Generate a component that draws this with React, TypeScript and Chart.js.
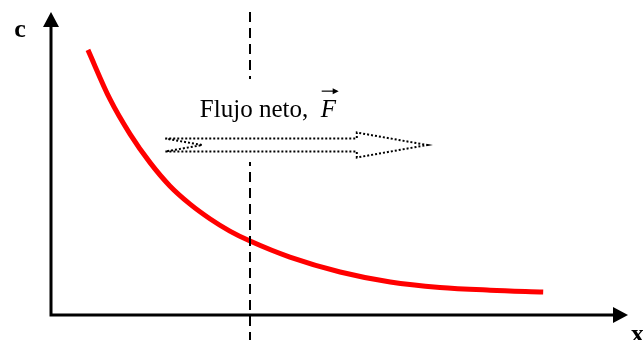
import React, { useEffect, useRef } from "react";
import { Chart, registerables } from "chart.js";

Chart.register(...registerables);

// Concentration profile c(x) (arbitrary units)
const xValues = [0.64, 1.02, 1.37, 1.72, 2.06, 2.41, 2.76, 3.1, 3.45, 4.14, 5.01, 5.88, 6.74, 7.61, 8.53];
const cValues = [8.75, 7.13, 5.97, 5.02, 4.26, 3.66, 3.17, 2.77, 2.44, 1.91, 1.42, 1.09, 0.91, 0.82, 0.76];

const axisLabels = ["c", "x"];
const fluxLabel = "Flujo neto,";
const fluxSymbol = "F";
const dividerX = [3.45];
// flux arrow: tail x, notch x, head start x, tip x, centre y
const fluxArrowX = [1.98, 2.62, 5.3, 6.52];
const fluxArrowY = [5.61];
const fluxTextPos = [2.58, 6.53];

const SERIF = '"Liberation Serif", "Times New Roman", serif';

const overlay = {
  id: "overlay",
  afterDatasetsDraw(chart: any) {
    const ctx = chart.ctx as CanvasRenderingContext2D;
    const xs = chart.scales.x;
    const ys = chart.scales.y;
    const area = chart.chartArea;
    const H = chart.height;
    const ox = xs.getPixelForValue(0);
    const oy = ys.getPixelForValue(0);
    const topY = ys.getPixelForValue(10);
    const rightX = xs.getPixelForValue(10);

    ctx.save();
    // axes
    ctx.strokeStyle = "#000";
    ctx.fillStyle = "#000";
    ctx.lineWidth = 3;
    ctx.lineCap = "butt";
    ctx.beginPath();
    ctx.moveTo(ox, oy + 1.5);
    ctx.lineTo(ox, topY + 12);
    ctx.moveTo(ox - 1.5, oy);
    ctx.lineTo(rightX - 12, oy);
    ctx.stroke();
    // arrowheads
    ctx.beginPath();
    ctx.moveTo(ox, topY);
    ctx.lineTo(ox - 8, topY + 15);
    ctx.lineTo(ox + 8, topY + 15);
    ctx.closePath();
    ctx.fill();
    ctx.beginPath();
    ctx.moveTo(rightX, oy);
    ctx.lineTo(rightX - 15, oy - 8);
    ctx.lineTo(rightX - 15, oy + 8);
    ctx.closePath();
    ctx.fill();

    // axis labels
    ctx.font = `bold 26px ${SERIF}`;
    ctx.textAlign = "center";
    ctx.textBaseline = "alphabetic";
    ctx.fillText(axisLabels[0], ox - 31, topY + 25);
    ctx.textAlign = "left";
    ctx.fillText(axisLabels[1], rightX + 3, oy + 27);

    // dashed divider
    const dx = Math.round(xs.getPixelForValue(dividerX[0]));
    ctx.lineWidth = 2;
    ctx.setLineDash([10, 6]);
    ctx.beginPath();
    ctx.moveTo(dx, area.top);
    ctx.lineTo(dx, H);
    ctx.stroke();
    ctx.setLineDash([]);

    // white label box
    const cy = ys.getPixelForValue(fluxArrowY[0]);
    ctx.fillStyle = "#fff";
    ctx.fillRect(dx - 20, cy - 66, 40, 83);

    // flux text
    ctx.fillStyle = "#000";
    ctx.font = `25px ${SERIF}`;
    ctx.textAlign = "left";
    const tx = xs.getPixelForValue(fluxTextPos[0]);
    const ty = ys.getPixelForValue(fluxTextPos[1]);
    ctx.fillText(fluxLabel, tx, ty);
    const w = ctx.measureText(fluxLabel + "  ").width;
    ctx.font = `italic 25px ${SERIF}`;
    const fx = tx + w;
    ctx.fillText(fluxSymbol, fx, ty);
    // vector arrow over F
    ctx.lineWidth = 1.2;
    ctx.beginPath();
    ctx.moveTo(fx + 1, ty - 26);
    ctx.lineTo(fx + 16, ty - 26);
    ctx.stroke();
    ctx.beginPath();
    ctx.moveTo(fx + 18, ty - 26);
    ctx.lineTo(fx + 12, ty - 29);
    ctx.lineTo(fx + 12, ty - 23);
    ctx.closePath();
    ctx.fill();

    // dotted notched block arrow
    const x0 = xs.getPixelForValue(fluxArrowX[0]);
    const xn = xs.getPixelForValue(fluxArrowX[1]);
    const xh = xs.getPixelForValue(fluxArrowX[2]);
    const xt = xs.getPixelForValue(fluxArrowX[3]);
    const sh = 6.5;
    const hh = 12.5;
    ctx.lineWidth = 2;
    ctx.setLineDash([2, 2]);
    ctx.beginPath();
    ctx.moveTo(x0, cy - sh);
    ctx.lineTo(xh, cy - sh);
    ctx.lineTo(xh, cy - hh);
    ctx.lineTo(xt, cy);
    ctx.lineTo(xh, cy + hh);
    ctx.lineTo(xh, cy + sh);
    ctx.lineTo(x0, cy + sh);
    ctx.lineTo(xn, cy);
    ctx.closePath();
    ctx.stroke();
    ctx.restore();
  },
};

export default function App() {
  const ref = useRef<HTMLCanvasElement>(null);
  useEffect(() => {
    if (!ref.current) return;
    const chart = new Chart(ref.current, {
      type: "line",
      data: {
        datasets: [
          {
            data: xValues.map((x, i) => ({ x, y: cValues[i] })),
            borderColor: "#ff0000",
            borderWidth: 5,
            borderCapStyle: "butt",
            pointRadius: 0,
            cubicInterpolationMode: "monotone",
            fill: false,
          },
        ],
      },
      options: {
        animation: false,
        responsive: false,
        layout: { padding: { left: 51, right: 15, top: 12, bottom: 25 } },
        plugins: { legend: { display: false }, tooltip: { enabled: false } },
        scales: {
          x: { type: "linear", min: 0, max: 10, display: false },
          y: { type: "linear", min: 0, max: 10, display: false },
        },
      },
      plugins: [overlay],
    });
    return () => chart.destroy();
  }, []);
  return (
    <div style={{ position: "absolute", left: 0, top: 0, width: 643, height: 340, background: "#fff" }}>
      <canvas ref={ref} width={643} height={340} />
    </div>
  );
}
